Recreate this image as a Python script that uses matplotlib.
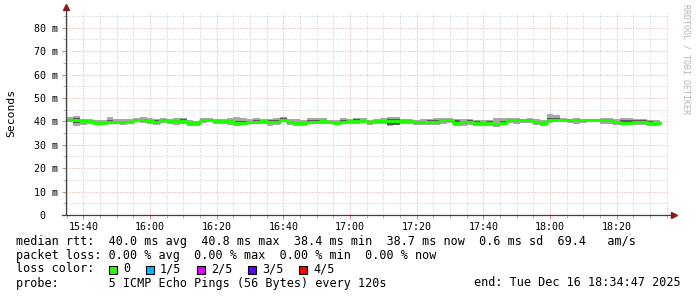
"""
plot.py
SmokePing style latency graph (median rtt with smoke), 3 hours.
"""

import numpy as np
import pandas as pd
import matplotlib
matplotlib.use("Agg")
import matplotlib.pyplot as plt
import matplotlib.dates as mdates
from matplotlib.patches import Rectangle

# --- data (ms), one value per 120 s step ---
times = pd.date_range("2025-12-16 15:35", periods=89, freq="2min")

median_ms = [
    40.5, 40.5, 40.1, 40.0, 39.4, 39.4, 39.9, 39.9, 39.9, 39.9, 40.6, 40.6, 40.1, 39.8, 40.5,
    40.1, 40.0, 40.0, 39.2, 39.1, 40.4, 40.6, 40.3, 40.1, 40.0, 39.4, 39.5, 39.8, 39.8, 40.3,
    39.7, 39.8, 40.8, 39.6, 39.3, 39.2, 39.9, 39.9, 40.0, 39.8, 39.4, 39.9, 40.1, 40.2, 40.2,
    39.7, 40.2, 40.2, 40.2, 40.2, 40.1, 40.1, 39.6, 39.6, 39.8, 39.9, 40.4, 40.4, 39.4, 39.6,
    39.6, 39.2, 39.2, 39.3, 38.7, 39.4, 40.4, 40.4, 40.4, 40.5, 39.6, 39.3, 40.6, 40.6, 40.6,
    40.4, 40.4, 40.4, 40.4, 40.4, 40.4, 40.4, 39.7, 39.5, 39.5, 39.9, 39.8, 39.3, 39.2,
]
# outer smoke (slowest / fastest ping)
smoke_max = [
    41.8, 42.1, 41.2, 41.0, 40.6, 40.5, 41.7, 41.2, 41.0, 40.9, 41.5, 41.9, 41.3, 41.1, 41.6,
    41.0, 41.4, 41.6, 40.6, 40.2, 41.6, 41.5, 41.2, 41.1, 41.6, 41.7, 41.5, 40.9, 41.3, 41.2,
    40.9, 41.3, 42.0, 41.2, 40.9, 40.4, 41.3, 41.6, 41.4, 40.8, 40.6, 41.3, 41.2, 41.6, 41.4,
    40.8, 41.2, 41.3, 42.0, 42.0, 41.1, 41.0, 40.6, 40.9, 41.1, 41.4, 41.6, 41.5, 41.2, 40.9,
    40.9, 40.6, 40.4, 40.8, 41.6, 41.4, 41.5, 41.4, 41.2, 41.6, 40.9, 40.6, 43.2, 42.9, 41.6,
    41.2, 41.5, 41.0, 40.9, 40.9, 41.3, 41.4, 40.9, 41.6, 41.6, 41.0, 41.2, 40.6, 40.5,
]
smoke_min = [
    39.6, 37.9, 38.6, 39.0, 38.3, 38.5, 38.9, 39.0, 38.6, 38.9, 39.6, 39.3, 38.9, 38.6, 39.4,
    38.8, 38.3, 38.7, 37.9, 38.0, 39.2, 39.6, 38.7, 39.0, 38.5, 38.0, 38.3, 38.7, 38.7, 38.9,
    38.2, 38.6, 39.7, 38.4, 38.1, 38.0, 38.7, 38.7, 38.8, 38.7, 38.3, 38.8, 39.0, 38.8, 39.2,
    38.6, 38.9, 39.0, 38.2, 38.3, 38.9, 39.0, 38.4, 38.5, 38.6, 38.6, 39.0, 39.3, 38.1, 38.2,
    38.5, 38.2, 38.1, 38.1, 37.8, 38.4, 39.2, 39.0, 39.3, 39.2, 38.3, 38.0, 39.5, 39.6, 39.6,
    39.4, 38.9, 39.3, 39.6, 39.7, 38.9, 39.0, 38.5, 38.3, 38.4, 38.6, 38.5, 38.0, 38.2,
]
# inner smoke (2nd / 4th ping)
dark_hi = [
    41.2, 41.5, 40.5, 40.3, 39.9, 39.8, 40.5, 40.3, 40.3, 40.3, 40.9, 41.0, 40.6, 40.4, 40.9,
    40.6, 40.7, 40.9, 39.8, 39.6, 41.0, 41.1, 40.8, 40.6, 40.8, 40.3, 40.3, 40.2, 40.5, 40.8,
    40.4, 40.5, 41.3, 40.1, 39.9, 39.8, 40.5, 40.7, 40.7, 40.3, 39.9, 40.5, 40.7, 40.9, 40.8,
    40.3, 40.8, 40.8, 41.2, 41.2, 40.6, 40.6, 40.2, 40.3, 40.4, 40.6, 41.0, 40.9, 40.6, 40.2,
    40.4, 40.0, 39.8, 40.1, 39.4, 40.2, 41.0, 41.0, 41.0, 41.1, 40.3, 39.9, 41.3, 41.3, 41.1,
    40.9, 41.0, 40.8, 40.8, 40.8, 40.9, 41.0, 40.3, 40.5, 40.5, 40.6, 40.5, 40.0, 39.9,
]
dark_lo = [
    40.0, 39.3, 39.2, 39.3, 38.7, 38.9, 39.4, 39.3, 39.3, 39.3, 40.0, 39.8, 39.5, 39.1, 39.9,
    39.3, 39.3, 39.3, 38.5, 38.4, 39.8, 40.0, 39.6, 39.5, 39.3, 38.8, 38.9, 39.3, 39.2, 39.6,
    39.1, 39.1, 40.2, 38.9, 38.8, 38.7, 39.3, 39.3, 39.4, 39.3, 38.9, 39.4, 39.6, 39.5, 39.6,
    39.0, 39.5, 39.4, 38.6, 38.6, 39.6, 39.6, 38.8, 38.9, 39.2, 39.0, 39.7, 39.8, 38.5, 38.7,
    39.0, 38.6, 38.5, 38.6, 38.2, 38.8, 39.8, 39.7, 39.8, 39.8, 38.9, 38.6, 40.0, 40.1, 40.1,
    39.8, 39.6, 39.8, 40.0, 40.0, 39.7, 39.7, 39.0, 38.9, 38.9, 39.3, 39.1, 38.6, 38.6,
]

y_ticks = [0, 10, 20, 30, 40, 50, 60, 70, 80]
y_labels = ["0  ", "10 m", "20 m", "30 m", "40 m", "50 m", "60 m", "70 m", "80 m"]

legend_lines = [
    "median rtt:  40.0 ms avg  40.8 ms max  38.4 ms min  38.7 ms now  0.6 ms sd  69.4   am/s",
    "packet loss: 0.00 % avg  0.00 % max  0.00 % min  0.00 % now",
    "loss color:",
    "probe:       5 ICMP Echo Pings (56 Bytes) every 120s",
]
loss_labels = ["0", "1/5", "2/5", "3/5", "4/5"]
loss_colors = ["#26ff00", "#00b8ff", "#dd00ff", "#5e00ff", "#ff0000"]
end_text = "end: Tue Dec 16 18:34:47 2025"

MONO = "DejaVu Sans Mono"
W, H = 697, 297

# step plots need one extra edge at the end
t_edges = times.append(pd.DatetimeIndex([times[-1] + pd.Timedelta("2min")]))


def ext(v):
    return list(v) + [v[-1]]


fig = plt.figure(figsize=(W / 100, H / 100), dpi=100)
ax = fig.add_axes([66 / W, 82 / H, 602 / W, 202 / H])

ax.fill_between(t_edges, ext(smoke_min), ext(smoke_max), step="post",
                color="#a8a8a8", lw=0, zorder=2)
ax.fill_between(t_edges, ext(dark_lo), ext(dark_hi), step="post",
                color="#5a5a5a", lw=0, zorder=3)
ax.step(t_edges, ext(median_ms), where="post", color="#1eff00", lw=2.1, zorder=4)

ax.set_xlim(pd.Timestamp("2025-12-16 15:34:47"), pd.Timestamp("2025-12-16 18:35:23"))
ax.set_ylim(0, 86.3)

ax.xaxis.set_major_locator(mdates.MinuteLocator(byminute=[0, 20, 40]))
ax.xaxis.set_minor_locator(mdates.MinuteLocator(byminute=range(0, 60, 5)))
ax.xaxis.set_major_formatter(mdates.DateFormatter("%H:%M"))
ax.set_yticks(y_ticks)
ax.set_yticklabels(y_labels)
ax.set_yticks(np.arange(5, 86, 10), minor=True)

for lab in ax.get_xticklabels() + ax.get_yticklabels():
    lab.set_fontfamily(MONO)
    lab.set_fontsize(7.2)
    lab.set_color("#000000")

ax.tick_params(axis="both", which="major", length=3, width=0.7, color="#e08080")
ax.tick_params(axis="both", which="minor", length=2, width=0.7, color="#b0b0b0")
ax.tick_params(axis="x", which="major", pad=1.8)
ax.tick_params(axis="y", which="major", pad=2.5)

ax.set_axisbelow(True)
ax.grid(True, which="major", color="#e8a0a0", lw=0.72, ls=(0, (1, 2)))
ax.grid(True, which="minor", color="#c8c8c8", lw=0.72, ls=(0, (1, 2)))

for s in ax.spines.values():
    s.set_visible(False)

# axis lines with small arrow heads, like rrdtool
ax.plot([0, 0], [0, 1.025], transform=ax.transAxes, color="#404040",
        lw=0.9, clip_on=False, zorder=5)
ax.plot([-0.007, 1.008], [0, 0], transform=ax.transAxes, color="#404040",
        lw=0.9, clip_on=False, zorder=5)
ax.plot([0], [1.03], marker="^", ms=4.5, color="#8b1a1a", transform=ax.transAxes,
        clip_on=False, zorder=6)
ax.plot([1.01], [0], marker=">", ms=4.5, color="#8b1a1a", transform=ax.transAxes,
        clip_on=False, zorder=6)

# y label and watermark
fig.text(11 / W, 1 - 113 / H, "Seconds", rotation=90, ha="center", va="center",
         fontsize=8.2, family=MONO)
fig.text(686 / W, 1 - 4 / H, "RRDTOOL / TOBI OETIKER", rotation=270, ha="center",
         va="top", fontsize=6.0, family=MONO, color="#b4b4b4")

# legend block
row_y = [241, 255, 269, 283]
for txt, y in zip(legend_lines, row_y):
    fig.text(16 / W, 1 - y / H, txt, ha="left", va="center", fontsize=8.5, family=MONO)
fig.text(681 / W, 1 - row_y[3] / H, end_text, ha="right", va="center",
         fontsize=8.5, family=MONO)

box_x = [109, 146, 197, 248, 299]
for bx, lab, col in zip(box_x, loss_labels, loss_colors):
    fig.patches.append(Rectangle((bx / W, 1 - 273.5 / H), 8 / W, 8 / H,
                                 transform=fig.transFigure, facecolor=col,
                                 edgecolor="#000000", lw=0.8, figure=fig))
    fig.text((bx + 14) / W, 1 - row_y[2] / H, lab, ha="left", va="center",
             fontsize=8.5, family=MONO)

fig.savefig("out.png", dpi=100, facecolor="white")
